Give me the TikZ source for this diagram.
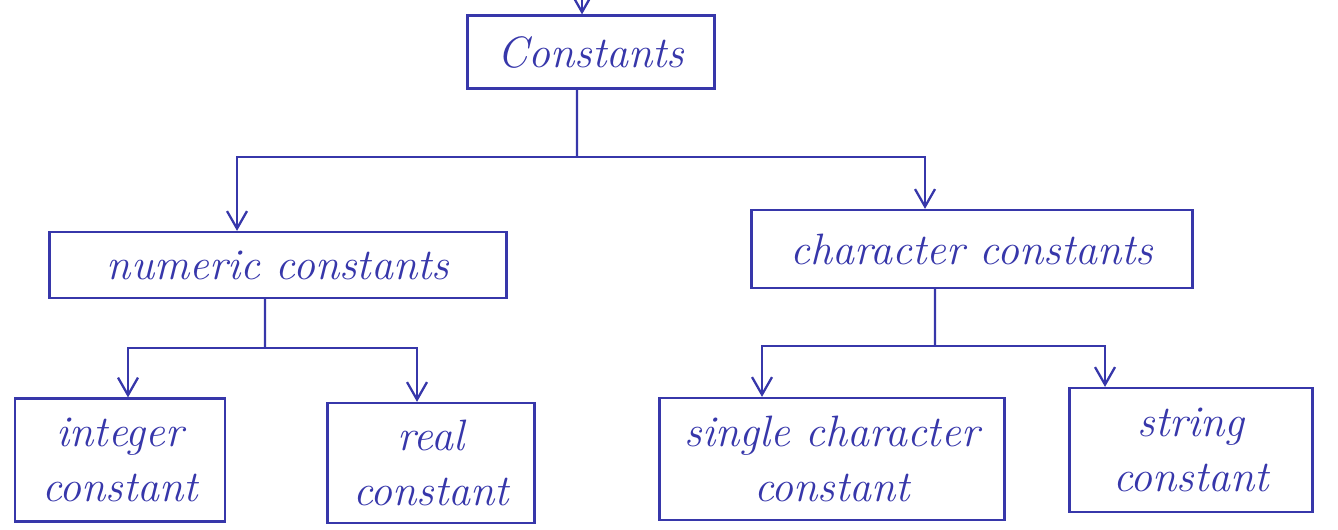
\documentclass[tikz,border=0pt]{standalone}
\usetikzlibrary{arrows.meta}
\definecolor{ink}{RGB}{55,55,170}

\begin{document}
\begin{tikzpicture}[x=0.02cm,y=-0.02cm,
    every node/.style={draw=ink, line width=1.3pt, text=ink, inner sep=0pt,
      align=center, font=\fontsize{25}{31}\selectfont\itshape},
    link/.style={draw=ink, line width=1.3pt},
    arrow/.style={link, -{Straight Barb[length=3.5mm,width=4mm]}}
  ]
  \useasboundingbox (0,0) rectangle (1338,529);
  % Root
  \node[minimum width=4.94cm,minimum height=1.46cm] (const) at (591,52) {Constants};
  \coordinate (top) at (582,0);
  \draw[arrow] (top) -- (const.north -| top);
  %
  % second level
  \node[minimum width=9.14cm,minimum height=1.32cm] (num) at (278,265) {numeric constants};
  \node[minimum width=8.82cm,minimum height=1.56cm] (char) at (972,249) {character constants};
  \coordinate (split) at (577,157);
  \draw[link] ([xshift=-0.28cm]const.south) -- (split);
  \draw[arrow] (split) -| ([xshift=-0.82cm]num.north);
  \draw[arrow] (split) -| ([xshift=-0.94cm]char.north);
  %
  % numeric leaves
  \node[minimum width=4.2cm,minimum height=2.46cm] (int) at (120,460) {integer\\constant};
  \node[minimum width=4.14cm,minimum height=2.4cm] (real) at (431,463) {real\\constant};
  \coordinate (numsplit) at (265,348);
  \draw[link] ([xshift=-0.26cm]num.south) -- (numsplit);
  \draw[arrow] (numsplit) -| ([xshift=0.16cm]int.north);
  \draw[arrow] (numsplit) -| ([xshift=-0.28cm]real.north);
  %
  % character leaves
  \node[minimum width=6.9cm,minimum height=2.44cm] (single) at (832,459) {single character\\constant};
  \node[minimum width=4.86cm,minimum height=2.48cm] (string) at (1191,450) {string\\constant};
  \coordinate (charsplit) at (935,346);
  \draw[link] ([xshift=-0.74cm]char.south) -- (charsplit);
  \draw[arrow] (charsplit) -| ([xshift=-1.4cm]single.north);
  \draw[arrow] (charsplit) -| ([xshift=-1.72cm]string.north);
\end{tikzpicture}
\end{document}
